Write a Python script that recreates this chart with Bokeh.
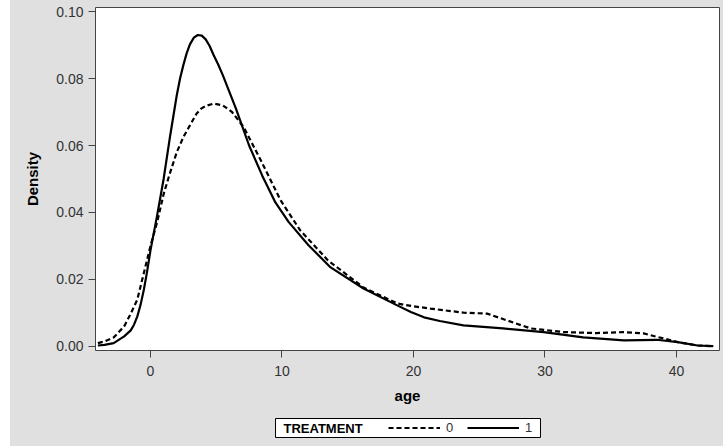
from bokeh.plotting import figure
from bokeh.layouts import column
from bokeh.models import Legend, LegendItem, NumeralTickFormatter, FixedTicker, Range1d
from bokeh.core.properties import value
from bokeh.embed import file_html
from bokeh.resources import INLINE

# Density curves
age_1 = [-4.0, -3.5, -2.8, -2.0, -1.5, -1.25, -1.0, -0.75, -0.5, -0.25, 0.0, 0.5, 1.0, 1.5,
         2.0, 2.25, 2.5, 2.75, 3.0, 3.3, 3.6, 3.9, 4.2, 4.5, 4.8, 5.15, 5.5, 6.0, 6.5, 7.5,
         8.5, 9.5, 10.5, 12.0, 13.7, 16.2, 18.8, 19.8, 20.8, 22.0, 23.8, 26.8, 29.9, 32.9,
         36.0, 38.5, 40.1, 41.6, 42.8]
density_1 = [0.0003, 0.0005, 0.001, 0.003, 0.0048, 0.0065, 0.009, 0.0125, 0.017, 0.0225,
             0.0287, 0.039, 0.050, 0.063, 0.075, 0.0800, 0.084, 0.0875, 0.0902, 0.0922, 0.093,
             0.0928, 0.0917, 0.0897, 0.087, 0.0842, 0.081, 0.076, 0.071, 0.060, 0.051, 0.043,
             0.0372, 0.0303, 0.0236, 0.0173, 0.0122, 0.0103, 0.0087, 0.0076, 0.0063, 0.0054,
             0.0043, 0.0027, 0.0018, 0.0020, 0.0013, 0.0003, 0.0001]

age_0 = [-4.0, -3.5, -2.8, -2.0, -1.5, -1.0, -0.5, 0.0, 0.5, 1.0, 1.5, 2.0, 2.5, 3.0, 3.5,
         3.85, 4.2, 4.8, 5.5, 6.2, 7.1, 8.4, 9.9, 11.4, 13.5, 16.2, 18.8, 20.0, 21.3, 23.8,
         25.6, 27.1, 28.9, 31.4, 33.9, 36.0, 37.5, 39.0, 40.1, 41.6, 42.8]
density_0 = [0.001, 0.0015, 0.0027, 0.006, 0.0098, 0.014, 0.022, 0.030, 0.037, 0.0455, 0.052,
             0.058, 0.0625, 0.066, 0.0695, 0.0710, 0.0718, 0.0725, 0.0720, 0.0700, 0.0654,
             0.0555, 0.0436, 0.0346, 0.0257, 0.0176, 0.0128, 0.0120, 0.0113, 0.0101, 0.0098,
             0.0078, 0.0054, 0.0043, 0.0040, 0.0043, 0.0039, 0.0024, 0.0013, 0.0003, 0.0001]

x_ticks = [0, 10, 20, 30, 40]
y_ticks = [0.0, 0.02, 0.04, 0.06, 0.08, 0.10]
groups = ["0", "1"]
legend_title = "TREATMENT"

BG = "#e0e0e0"
FONT = "Liberation Sans"
DASH = "5 3"
LW = 2.2

# ---- main plot ----
p = figure(width=713, height=408, output_backend="svg", toolbar_location=None,
           x_range=Range1d(-4.18, 43.27), y_range=Range1d(-0.0012, 0.1012),
           min_border_left=85, min_border_right=4, min_border_top=7, min_border_bottom=58)
p.background_fill_color = "white"
p.border_fill_color = BG
p.outline_line_color = "#444444"
p.outline_line_width = 1
p.grid.visible = False

p.line(age_0, density_0, line_color="black", line_width=LW, line_dash=DASH)
p.line(age_1, density_1, line_color="black", line_width=LW)

for ax in (p.xaxis[0], p.yaxis[0]):
    ax.axis_line_color = None
    ax.major_tick_line_color = "#444444"
    ax.major_tick_in = 0
    ax.major_tick_out = 7
    ax.minor_tick_line_color = None
    ax.major_label_text_font = FONT
    ax.major_label_text_font_size = "14px"
    ax.major_label_text_color = "#333333"
    ax.axis_label_text_font = FONT
    ax.axis_label_text_font_size = "15px"
    ax.axis_label_text_font_style = "bold"
    ax.axis_label_text_color = "black"

p.xaxis.ticker = FixedTicker(ticks=x_ticks)
p.yaxis.ticker = FixedTicker(ticks=y_ticks)
p.yaxis.formatter = NumeralTickFormatter(format="0.00")
p.xaxis.axis_label = "age"
p.yaxis.axis_label = "Density"
p.xaxis.major_label_standoff = 8
p.xaxis.axis_label_standoff = 8
p.yaxis.major_label_standoff = 5
p.yaxis.axis_label_standoff = 12

# ---- legend strip: its frame lines up with the main frame (page x 95..719) ----
lf = figure(width=713, height=38, output_backend="svg", toolbar_location=None,
            x_range=Range1d(95, 719), y_range=Range1d(0, 38),
            min_border_left=85, min_border_right=4, min_border_top=0, min_border_bottom=0)
lf.xaxis.visible = False
lf.yaxis.visible = False
lf.grid.visible = False
lf.outline_line_color = None
lf.background_fill_color = None
lf.border_fill_color = None

lf.quad(left=[275], right=[540], bottom=[9], top=[28], fill_color="white",
        line_color="black", line_width=1)
lf.text(x=[283], y=[18.5], text=[legend_title], text_font=value(FONT),
        text_font_size="13px", text_font_style="bold", text_color="black",
        text_baseline="middle", text_align="left")

g0 = lf.line(x=[-1000, -999], y=[-1000, -1000], line_color="black", line_width=LW, line_dash=DASH)
g1 = lf.line(x=[-1000, -999], y=[-1000, -1000], line_color="black", line_width=LW)

legend = Legend(items=[LegendItem(label=groups[0], renderers=[g0]),
                       LegendItem(label=groups[1], renderers=[g1])],
                orientation="horizontal", location=(293, 11))
legend.label_text_font = FONT
legend.label_text_font_size = "13px"
legend.label_text_color = "#333333"
legend.glyph_width = 52
legend.glyph_height = 15
legend.label_standoff = 6
legend.label_width = 8
legend.spacing = 13
legend.padding = 0
legend.margin = 0
legend.border_line_color = None
legend.background_fill_alpha = 0
lf.add_layout(legend, "center")

layout = column(p, lf, spacing=0)
layout.margin = (0, 0, 0, 10)
layout.styles = {"background-color": BG}
open("out.html", "w").write(file_html(layout, INLINE))
